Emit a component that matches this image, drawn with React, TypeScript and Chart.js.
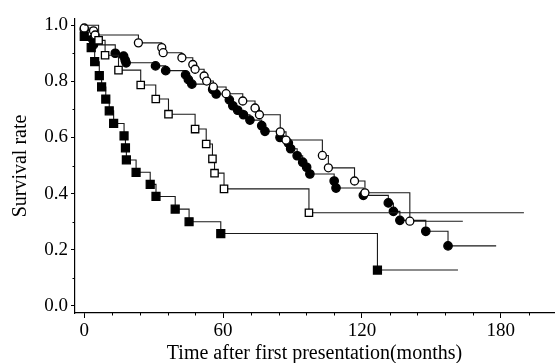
import React, { useEffect, useRef } from "react";
import { Chart, registerables } from "chart.js";

Chart.register(...registerables);

// Months (x) and survival rate (y) for each Kaplan-Meier curve
const filledSquareMonths = [0, 0, 3, 4.5, 6.5, 7.5, 9.3, 10.8, 12.7, 17.2, 17.8, 18.2, 22.4, 28.5, 31, 39.3, 45.3, 59, 126.7, 161.5];
const filledSquareSurvival = [1.0, 0.96, 0.92, 0.87, 0.82, 0.78, 0.737, 0.695, 0.65, 0.606, 0.563, 0.52, 0.476, 0.433, 0.39, 0.345, 0.3, 0.258, 0.128, 0.128];

const openSquareMonths = [0, 6.2, 9, 14.8, 24.4, 30.9, 36.4, 47.9, 52.7, 55.4, 56.3, 60.4, 97.1, 190];
const openSquareSurvival = [1.0, 0.946, 0.893, 0.84, 0.787, 0.737, 0.683, 0.63, 0.577, 0.524, 0.473, 0.417, 0.332, 0.332];

const openCircleMonths = [0, 0, 4, 4.7, 23.4, 33.5, 34.1, 42.2, 46.9, 47.9, 51.8, 52.9, 55.8, 61.3, 68.5, 73.8, 75.7, 84.7, 87.2, 102.9, 105.5, 116.8, 121.3, 140.7, 163.6];
const openCircleSurvival = [1.0, 0.99, 0.98, 0.965, 0.937, 0.92, 0.902, 0.884, 0.86, 0.843, 0.819, 0.801, 0.78, 0.756, 0.73, 0.705, 0.681, 0.62, 0.591, 0.536, 0.492, 0.445, 0.403, 0.302, 0.302];

const filledCircleMonths = [0, 0, 3.6, 4, 13.4, 17, 17.7, 18.1, 30.8, 35.2, 43.8, 45, 46.5, 55.5, 57, 62.7, 64.2, 66.3, 68.8, 71.6, 76.7, 78.1, 84.6, 88.2, 89.2, 92, 94.4, 96.1, 97.5, 108, 108.8, 120.6, 131.4, 133.6, 136.4, 147.6, 157.2, 178];
const filledCircleSurvival = [1.0, 0.985, 0.95, 0.93, 0.9, 0.89, 0.875, 0.866, 0.855, 0.838, 0.823, 0.806, 0.79, 0.771, 0.755, 0.734, 0.713, 0.697, 0.681, 0.662, 0.642, 0.622, 0.6, 0.58, 0.56, 0.535, 0.512, 0.494, 0.47, 0.445, 0.42, 0.394, 0.367, 0.337, 0.305, 0.266, 0.214, 0.214];

const xMajorTicks = [0, 60, 120, 180];
const xMinorTicks = [12, 24, 36, 48, 72, 84, 96, 108, 132, 144, 156, 168, 192];
const yMajorTicks = [0, 0.2, 0.4, 0.6, 0.8, 1.0];
const yMinorTicks = [0.1, 0.3, 0.5, 0.7, 0.9];

const FONT = "'Liberation Serif', 'Times New Roman', serif";

function toPoints(xs: number[], ys: number[]) {
  return xs.map((x, i) => ({ x, y: ys[i] }));
}

const minorTickPlugin = {
  id: "minorTicks",
  afterDraw(chart: any) {
    const ctx = chart.ctx;
    const xs = chart.scales.x;
    const ys = chart.scales.y;
    ctx.save();
    ctx.strokeStyle = "#000";
    ctx.lineWidth = 1;
    ctx.beginPath();
    for (const v of xMinorTicks) {
      const px = Math.round(xs.getPixelForValue(v)) + 0.5;
      ctx.moveTo(px, xs.top);
      ctx.lineTo(px, xs.top + 2.5);
    }
    for (const v of yMinorTicks) {
      const py = Math.round(ys.getPixelForValue(v)) + 0.5;
      ctx.moveTo(ys.right, py);
      ctx.lineTo(ys.right - 2.5, py);
    }
    ctx.stroke();
    ctx.restore();
  },
};

function makeDataset(xs: number[], ys: number[], style: string, filled: boolean, radius: number) {
  const n = xs.length;
  return {
    data: toPoints(xs, ys),
    showLine: true,
    stepped: true,
    borderColor: "#1a1a1a",
    borderWidth: 1.1,
    pointStyle: style,
    pointRadius: (ctx: any) => (ctx.dataIndex === 0 || ctx.dataIndex === n - 1 ? 0 : radius),
    pointBackgroundColor: filled ? "#000" : "#fff",
    pointBorderColor: "#000",
    pointBorderWidth: 1.3,
    pointHoverRadius: 0,
  };
}

export default function App() {
  const canvasRef = useRef<HTMLCanvasElement | null>(null);

  useEffect(() => {
    if (!canvasRef.current) return;
    const chart = new Chart(canvasRef.current, {
      type: "scatter",
      data: {
        datasets: [
          makeDataset(openSquareMonths, openSquareSurvival, "rect", false, 5.2),
          makeDataset(openCircleMonths, openCircleSurvival, "circle", false, 4),
          makeDataset(filledCircleMonths, filledCircleSurvival, "circle", true, 4.2),
          makeDataset(filledSquareMonths, filledSquareSurvival, "rect", true, 5.6),
        ] as any,
      },
      options: {
        animation: false,
        responsive: false,
        maintainAspectRatio: false,
        events: [],
        layout: { padding: { top: 19, right: 3, left: 0, bottom: 0 } },
        plugins: {
          legend: { display: false },
          tooltip: { enabled: false },
        },
        scales: {
          x: {
            type: "linear",
            min: -4,
            max: 203,
            afterBuildTicks: (scale: any) => {
              scale.ticks = xMajorTicks.map((v) => ({ value: v }));
            },
            afterFit: (scale: any) => {
              scale.height = 50;
            },
            border: { display: true, color: "#000", width: 1.2 },
            grid: { drawOnChartArea: false, drawTicks: true, tickLength: 5, color: "#000", tickColor: "#000" },
            ticks: {
              color: "#000",
              font: { family: FONT, size: 19, lineHeight: 1 },
              padding: 4,
              maxRotation: 0,
              callback: (v: any) => String(v),
            },
            title: {
              display: true,
              text: "Time after first presentation(months)",
              color: "#000",
              font: { family: FONT, size: 20, lineHeight: 1 },
              padding: { top: 0, bottom: -1 },
            },
          },
          y: {
            type: "linear",
            min: -0.025,
            max: 1.022,
            afterBuildTicks: (scale: any) => {
              scale.ticks = yMajorTicks.map((v) => ({ value: v }));
            },
            afterFit: (scale: any) => {
              scale.width = 75;
            },
            border: { display: true, color: "#000", width: 1.2 },
            grid: { drawOnChartArea: false, drawTicks: true, tickLength: 4, color: "#000", tickColor: "#000" },
            ticks: {
              color: "#000",
              font: { family: FONT, size: 19 },
              padding: 3,
              callback: (v: any) => Number(v).toFixed(1),
            },
            title: {
              display: true,
              text: "Survival rate",
              color: "#000",
              font: { family: FONT, size: 20, lineHeight: 1 },
              padding: { top: 11, bottom: 0 },
            },
          },
        },
      },
      plugins: [minorTickPlugin],
    });
    return () => chart.destroy();
  }, []);

  return (
    <div style={{ position: "fixed", left: 0, top: 0, width: 557, height: 363, background: "#fff" }}>
      <canvas ref={canvasRef} width={557} height={363} style={{ width: 557, height: 363 }} />
    </div>
  );
}
